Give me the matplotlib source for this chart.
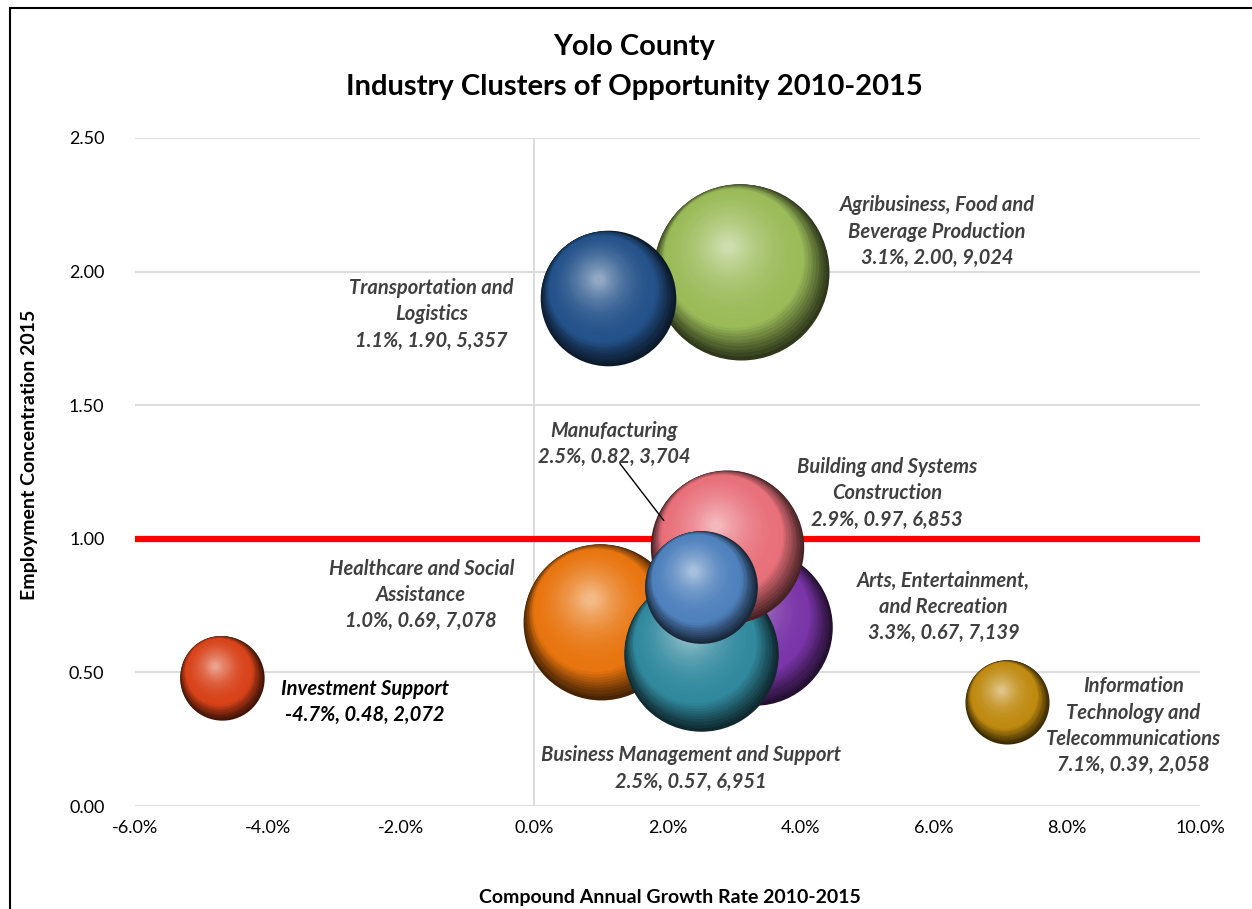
import numpy as np
import matplotlib.pyplot as plt
import matplotlib.transforms as mtransforms
from matplotlib.colors import to_rgb
from matplotlib.patches import Rectangle

plt.rcParams['font.family'] = ['Lato', 'DejaVu Sans']

# data: growth rate (%), employment concentration, employment
names = ['Agribusiness, Food and\nBeverage Production', 'Arts, Entertainment,\nand Recreation',
         'Healthcare and Social\nAssistance', 'Business Management and Support',
         'Building and Systems\nConstruction', 'Transportation and\nLogistics',
         'Manufacturing', 'Investment Support',
         'Information\nTechnology and\nTelecommunications']
growth = [3.1, 3.3, 1.0, 2.5, 2.9, 1.1, 2.5, -4.7, 7.1]
conc = [2.00, 0.67, 0.69, 0.57, 0.97, 1.90, 0.82, 0.48, 0.39]
employment = [9024, 7139, 7078, 6951, 6853, 5357, 3704, 2072, 2058]
colors = ['#9bbb59', '#7a35a8', '#e8750f', '#31899e', '#e8707a', '#24528a',
          '#4f81bd', '#d8431a', '#bf8a10']

# label anchor positions (data coords)
label_x = [6.05, 6.15, -1.7, 2.35, 5.3, -1.55, 1.2, -2.55, 9.0]
label_y = [2.15, 0.745, 0.79, 0.14, 1.17, 1.84, 1.355, 0.39, 0.30]

xticks = [-6, -4, -2, 0, 2, 4, 6, 8, 10]
yticks = [0.0, 0.5, 1.0, 1.5, 2.0, 2.5]

fig = plt.figure(figsize=(12.52, 9.09), dpi=100)
ax = fig.add_axes([0.1078, 0.1133, 0.8507, 0.7349])
ax.set_xlim(-6, 10)
ax.set_ylim(0, 2.5)

# chart border
fig.patches.append(Rectangle((10 / 1252, -0.1), 1.2, 1 - 8 / 909 + 0.1, transform=fig.transFigure,
                             fill=False, edgecolor='black', linewidth=1.5, zorder=0))

for y in yticks:
    ax.axhline(y, color='#d9d9d9', lw=1.3, zorder=1)
ax.axvline(0, color='#d9d9d9', lw=1.3, zorder=1)
ax.axhline(1.0, color='#ff0000', lw=4.5, zorder=2)

k = 0.667  # bubble radius in points per sqrt(employment)
hdir = np.array([-0.45, 0.9]) / np.hypot(0.45, 0.9)


def sphere(x, y, emp, color, z):
    R = k * np.sqrt(emp)
    base = np.array(to_rgb(color))
    n = 45
    for i, t in enumerate(np.linspace(0, 1, n)):
        f = 1 - 0.93 * t
        off = 0.32 * R * (1 - (1 - t) ** 3)
        dx, dy = hdir * off
        if t < 0.22:
            c = base * (0.3 + 0.7 * (t / 0.22))
        else:
            u = (t - 0.22) / 0.78
            c = base + (1 - base) * 0.5 * u ** 1.8
        tr = mtransforms.offset_copy(ax.transData, fig=fig, x=dx, y=dy, units='points')
        ax.scatter([x], [y], s=(2 * R * f) ** 2, color=np.clip(c, 0, 1),
                   transform=tr, zorder=z + i * 0.001, linewidths=0)


for i in range(len(names)):
    sphere(growth[i], conc[i], employment[i], colors[i], 3 + i * 0.1)

for i in range(len(names)):
    txt = names[i] + '\n' + f'{growth[i]:.1f}%, {conc[i]:.2f}, {employment[i]:,}'
    col = '#000000' if names[i] == 'Investment Support' else '#404040'
    ax.text(label_x[i], label_y[i], txt, ha='center', va='center', fontsize=14.5,
            fontweight='bold', style='italic', color=col, linespacing=1.4, zorder=10)

ax.annotate('', xy=(1.97, 1.06), xytext=(1.26, 1.29),
            arrowprops=dict(arrowstyle='-', color='black', lw=1), zorder=10)

ax.set_xticks(xticks)
ax.set_xticklabels([f'{v:.1f}%' for v in xticks], fontsize=13)
ax.set_yticks(yticks)
ax.set_yticklabels([f'{v:.2f}' for v in yticks], fontsize=13)
ax.tick_params(length=0, pad=10)
ax.tick_params(axis='y', pad=22)
for s in ax.spines.values():
    s.set_visible(False)

fig.text(0.5065, 1 - 47 / 909, 'Yolo County', ha='center', va='center', fontsize=21, fontweight='bold')
fig.text(0.5065, 1 - 87 / 909, 'Industry Clusters of Opportunity 2010-2015', ha='center', va='center',
         fontsize=21, fontweight='bold')
fig.text(670 / 1252, 1 - 897 / 909, 'Compound Annual Growth Rate 2010-2015', ha='center', va='center',
         fontsize=14, fontweight='bold')
fig.text(30 / 1252, 1 - 455 / 909, 'Employment Concentration 2015', ha='center', va='center',
         fontsize=14, fontweight='bold', rotation=90)

fig.savefig('out.png', dpi=100)
